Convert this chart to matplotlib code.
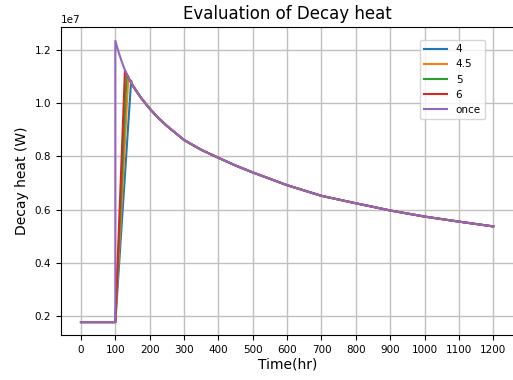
import matplotlib
matplotlib.use("Agg")
import matplotlib.pyplot as plt

# decay curve ("once"), values in units of 1e7 W
once_t = [0, 100, 100, 110, 120, 130, 140, 150, 175, 200, 225, 250, 300, 350, 400,
          450, 500, 600, 700, 800, 900, 1000, 1100, 1200]
once_v = [0.177, 0.177, 1.235, 1.19, 1.152, 1.118, 1.092, 1.068, 1.02, 0.98,
          0.945, 0.915, 0.862, 0.825, 0.795, 0.766, 0.740, 0.692, 0.652, 0.624,
          0.597, 0.574, 0.555, 0.537]

labels = ["4", "4.5", "5", "6"]
peak_t = [146, 138, 133, 128]
peak_v = [1.085, 1.100, 1.110, 1.122]
base_v = 0.177
start_t = 100

fig = plt.figure(figsize=(5.13, 3.80), dpi=100)
ax = fig.add_axes([0.119, 0.118, 0.884, 0.811])

colors = ["#1f77b4", "#ff7f0e", "#2ca02c", "#d62728"]
for lab, pt, pv, c in zip(labels, peak_t, peak_v, colors):
    t = [0, start_t, pt] + [x for x in once_t if x > pt]
    v = [base_v, base_v, pv] + [y for x, y in zip(once_t, once_v) if x > pt]
    ax.plot(t, [y * 1e7 for y in v], color=c, lw=1.5, label=lab)
ax.plot(once_t, [y * 1e7 for y in once_v], color="#9467bd", lw=1.5, label="once")

ax.set_xlim(-58, 1262)
ax.set_ylim(0.128e7, 1.287e7)
ax.set_xticks(range(0, 1201, 100))
ax.set_yticks([0.2e7, 0.4e7, 0.6e7, 0.8e7, 1.0e7, 1.2e7])
ax.spines["right"].set_visible(False)
ax.tick_params(labelsize=7.5)
ax.yaxis.get_offset_text().set_fontsize(7.5)
ax.grid(True, color="#c0c0c0", lw=1.0)
ax.set_axisbelow(True)
ax.set_xlabel("Time(hr)", fontsize=10, labelpad=2)
ax.set_ylabel("Decay heat (W)", fontsize=10)
ax.set_title("Evaluation of Decay heat", fontsize=12, pad=6)
ax.legend(loc="upper right", bbox_to_anchor=(485 / 513, 1 - 40 / 380),
          bbox_transform=fig.transFigure, fontsize=7.5, framealpha=0.8,
          handlelength=2.2, labelspacing=0.5, borderaxespad=0)

fig.savefig("out.png", dpi=100)
